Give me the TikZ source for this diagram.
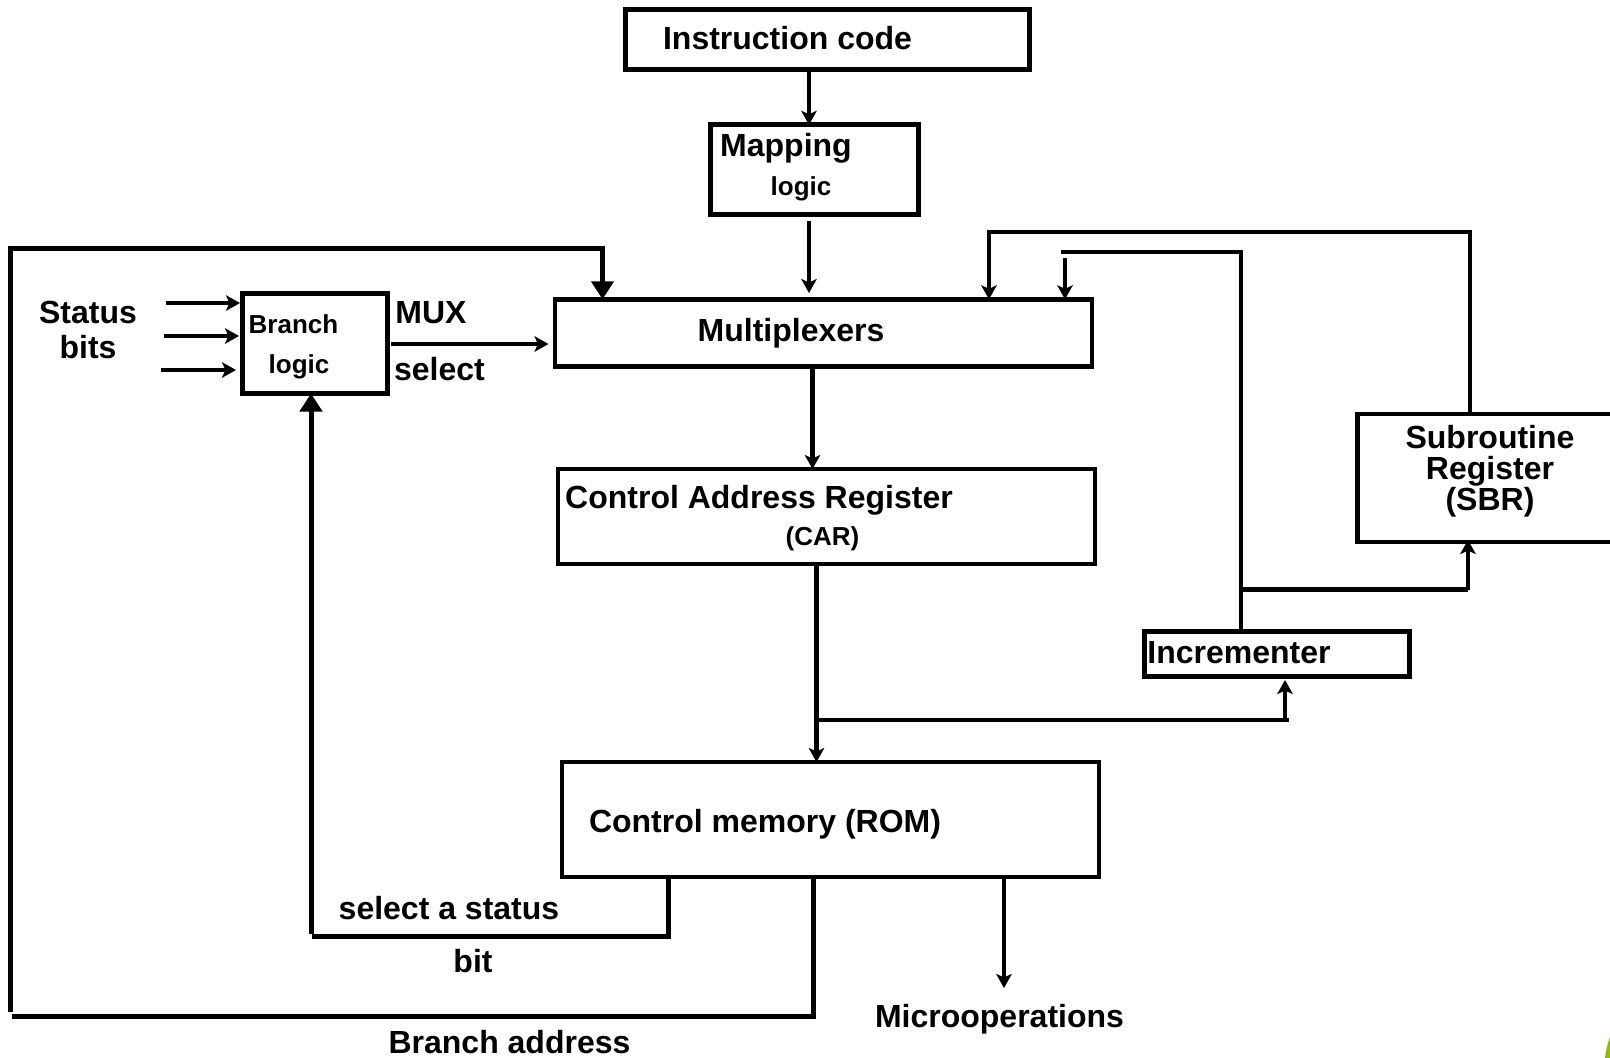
\documentclass[tikz,border=0pt]{standalone}
\usepackage{fontspec}
\setmainfont{Liberation Sans}
\usetikzlibrary{arrows.meta}
\definecolor{leaf}{HTML}{8DBE00}
\tikzset{
  x=1pt,y=-1pt,
  box/.style={draw=black,line width=4.7pt,fill=none,inner sep=0pt,outer sep=0pt},
  big/.style={font=\fontsize{32}{32}\selectfont\bfseries,anchor=base,inner sep=0pt,outer sep=0pt},
  small/.style={font=\fontsize{26}{26}\selectfont\bfseries,anchor=base,inner sep=0pt,outer sep=0pt},
  wire/.style={line width=4.7pt,draw=black},
  heavy/.style={line width=5pt,draw=black},
  arr/.style={-{Stealth[length=14pt,width=15.5pt,inset=3.5pt]}},
  bigarr/.style={-{Triangle[length=18pt,width=22pt]}},
}
\begin{document}
\begin{tikzpicture}
\useasboundingbox (0,0) rectangle (1610,1058);
\fill[leaf] (1610,1037) .. controls (1608,1042) and (1606,1050) .. (1605,1058) -- (1610,1058) -- cycle;
% boxes
\node[box,minimum width=404pt,minimum height=60pt] (ic) at (827.5,39.5) {};
\node[box,minimum width=208pt,minimum height=90pt] (map) at (814.3,169.8) {};
\node[box,minimum width=537pt,minimum height=67pt] (mux) at (823.5,332.8) {};
\node[box,minimum width=145pt,minimum height=100pt] (bl) at (315,343.5) {};
\node[box,minimum width=537pt,minimum height=95pt] (car) at (826.5,516.5) {};
\node[box,minimum width=270pt,minimum height=128pt] (sbr) at (1492.5,478) {};
\node[box,minimum width=265.4pt,minimum height=45.2pt] (inc) at (1277,654) {};
\node[box,minimum width=537pt,minimum height=115pt] (rom) at (830.5,819.5) {};
% labels
\node[big] (t1) at (787.5,49) {Instruction code};
\node[big] (t2) at (786,156) {Mapping};
\node[small] (t3) at (801,195) {logic};
\node[big] (t4) at (791,341) {Multiplexers};
\node[small] (t5) at (293.5,333) {Branch};
\node[small] (t6) at (299,373) {logic};
\node[big] (t7) at (431,323.5) {MUX};
\node[big] (t8) at (439.5,380) {select};
\node[big] (t9) at (88,323.5) {Status};
\node[big] (t10) at (88,358) {bits};
\node[big] (t11) at (759,508) {Control Address Register};
\node[small] (t12) at (822.5,545) {(CAR)};
\node[big] (t13) at (1490,448) {Subroutine};
\node[big] (t14) at (1490,479.5) {Register};
\node[big] (t15) at (1490,510) {(SBR)};
\node[big] (t16) at (1239,663) {Incrementer};
\node[big] (t17) at (765,832) {Control memory (ROM)};
\node[big] (t18) at (449,919) {select a status};
\node[big] (t19) at (473,972) {bit};
\node[big] (t20) at (509.5,1053.5) {Branch address};
\node[big] (t21) at (999.5,1027) {Microoperations};
% routing coordinates
\coordinate (xa) at (809,0);
\coordinate (xb) at (812.5,0);
\coordinate (xc) at (816.5,0);
\coordinate (xd) at (813,0);
\coordinate (xe) at (668,0);
\coordinate (xf) at (1004,0);
\coordinate (xh) at (1241,0);
\coordinate (xi) at (1065,0);
\coordinate (xj) at (1470,0);
\coordinate (xk) at (989,0);
\coordinate (xl) at (1468,0);
\coordinate (xm) at (602.5,0);
\coordinate (xn) at (311,0);
\coordinate (mapout) at (809,221);
\coordinate (muxin) at (809,293);
\coordinate (romin) at (816.5,720);
\coordinate (incend) at (1289,720);
\coordinate (incin) at (1285,720);
\coordinate (inctip) at (1285,680);
\coordinate (incup) at (1241,589.5);
\coordinate (sbrin) at (1468,589.5);
\coordinate (sbrtip) at (1468,540);
\coordinate (tr) at (1241,252);
\coordinate (tl) at (1061,252);
\coordinate (ai) at (1065,258);
\coordinate (sa) at (166,303);
\coordinate (sb) at (164,336);
\coordinate (sc) at (161,370);
\coordinate (sa2) at (240,303);
\coordinate (sb2) at (239,336);
\coordinate (sc2) at (236,370);
\coordinate (ms) at (391,344);
\coordinate (me) at (548.5,344);
\coordinate (microe) at (1004,988);
\coordinate (tj) at (1470,232);
\coordinate (tk) at (989,232);
\coordinate (r1) at (813,1016.7);
\coordinate (r2b) at (12,1016.7);
\coordinate (r2a) at (10,1012);
\coordinate (r3) at (10,248);
\coordinate (r4) at (602.5,248);
\coordinate (s1) at (668,936);
\coordinate (s1b) at (671,936);
\coordinate (s2b) at (311.8,936);
\coordinate (s2a) at (311,934);
% connectors
\draw[wire,arr] (ic.south -| xa) -- (map.north -| xa);
\draw[wire,arr] (mapout) -- (muxin);
\draw[wire,arr] (mux.south -| xb) -- (car.north -| xb);
\draw[wire,arr] (car.south -| xc) -- (rom.north -| xc);
\draw[wire] (romin) -- (incend);
\draw[wire,arr] (incin) -- (inctip);
\draw[wire] (inc.north -| xh) -- (tr) -- (tl);
\draw[wire,arr] (ai) -- (mux.north -| xi);
\draw[wire] (incup) -- (sbrin);
\draw[wire,arr] (sbrin) -- (sbrtip);
\draw[wire,arr] (sbr.north -| xj) -- (tj) -- (tk) -- (mux.north -| xk);
\draw[wire,arr] (sa) -- (sa2);
\draw[wire,arr] (sb) -- (sb2);
\draw[wire,arr] (sc) -- (sc2);
\draw[wire,arr] (ms) -- (me);
\draw[wire,arr] (rom.south -| xf) -- (microe);
\draw[heavy] (rom.south -| xd) -- (r1) -- (r2b);
\draw[heavy,bigarr] (r2a) -- (r3) -- (r4) -- (mux.north -| xm);
\draw[heavy] (rom.south -| xe) -- (s1);
\draw[heavy] (s1b) -- (s2b);
\draw[heavy,bigarr] (s2a) -- (bl.south -| xn);
\end{tikzpicture}
\end{document}
